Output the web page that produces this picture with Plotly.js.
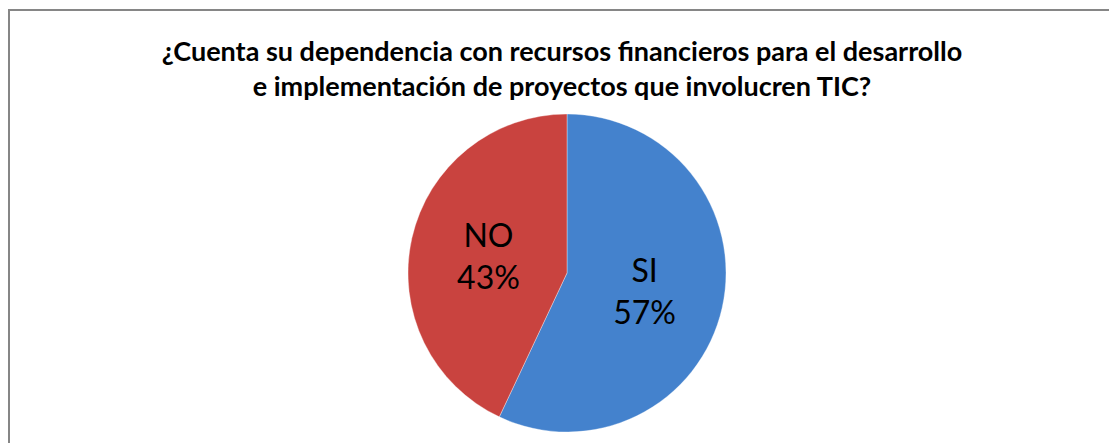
<!DOCTYPE html>
<html>
<head>
<meta charset="utf-8">
<script src="https://cdn.plot.ly/plotly-3.0.1.min.js"></script>
<style>
html,body{margin:0;padding:0;background:#fff;}
#chart{width:1109px;height:443px;}
</style>
</head>
<body>
<div id="chart"></div>
<script>
const categories = ["SI", "NO"];
const values = [57, 43];
const sliceColors = ["#4482cd", "#c9433f"];
const chartTitle = "¿Cuenta su dependencia con recursos financieros para el desarrollo<br>e implementación de proyectos que involucren TIC?";

const W = 1109, H = 443;
const trace = {
  type: "pie",
  labels: categories,
  values: values,
  sort: false,
  direction: "clockwise",
  rotation: 0,
  texttemplate: "%{label}<br>%{percent:.0%}",
  textposition: "inside",
  insidetextorientation: "horizontal",
  textfont: {family: "Lato, Open Sans, sans-serif", size: 32, color: "#000"},
  marker: {colors: sliceColors, line: {color: "rgba(255,255,255,0.35)", width: 1}},
  domain: {x: [408/W, 726/W], y: [(H-433)/H, (H-113)/H]},
  hoverinfo: "label+percent",
  showlegend: false
};
const layout = {
  width: W, height: H,
  margin: {l: 0, r: 0, t: 0, b: 0},
  paper_bgcolor: "#fff",
  title: {
    text: chartTitle,
    font: {family: "Lato, Open Sans, sans-serif", size: 27, color: "#000", weight: "bold"},
    x: 562/W, xanchor: "center",
    y: 1 - 61/H, yanchor: "middle"
  },
  shapes: [{
    type: "rect", xref: "paper", yref: "paper",
    x0: 9/W, x1: 1.2, y0: -0.2, y1: 1 - 10/H,
    line: {color: "#868686", width: 2}, fillcolor: "rgba(0,0,0,0)", layer: "below"
  }]
};
Plotly.newPlot("chart", [trace], layout, {displayModeBar: false, staticPlot: true});
</script>
</body>
</html>
